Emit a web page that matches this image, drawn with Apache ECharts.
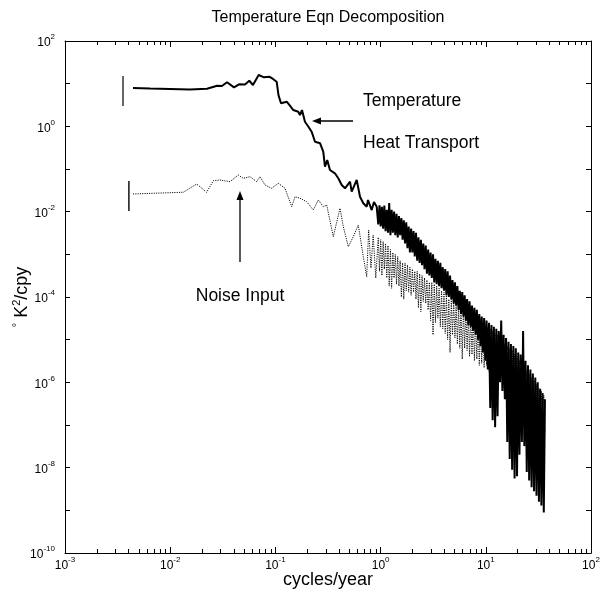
<!DOCTYPE html>
<html><head><meta charset="utf-8">
<script src="https://cdn.jsdelivr.net/npm/echarts@6/dist/echarts.min.js"></script>
<style>html,body{margin:0;padding:0;background:#fff}#c{width:601px;height:601px}</style>
</head><body><div id="c"></div>
<script>
// ---- data ----
const tempFreqLow = [0.00443, 0.00643, 0.00995, 0.0154, 0.0224, 0.0279, 0.0310, 0.0347, 0.0404, 0.0451,
  0.0514, 0.0565, 0.0612, 0.0693, 0.078, 0.0875, 0.0948, 0.1028, 0.107, 0.113,
  0.128, 0.138, 0.148, 0.165, 0.171, 0.179, 0.191, 0.206, 0.221, 0.238,
  0.266, 0.285, 0.296, 0.311, 0.330, 0.368, 0.396, 0.427, 0.459, 0.512,
  0.531, 0.593, 0.637, 0.685, 0.738, 0.759, 0.823, 0.865, 0.918];
const tempValLow = [7.92, 7.7, 7.5, 7.3, 7.6, 8.96, 8.8, 10.8, 8.2, 9.67,
  9.56, 11.7, 9.3, 16.0, 14.1, 14.6, 12.9, 11.1, 5.4, 3.47,
  3.78, 3.0, 2.41, 2.2, 1.84, 2.41, 1.28, 0.98, 0.749, 0.436,
  0.40, 0.255, 0.113, 0.163, 0.0948, 0.0793, 0.0605, 0.0422, 0.0353, 0.0504,
  0.0294, 0.0553, 0.0224, 0.0157, 0.0131, 0.0188, 0.0109, 0.0169, 0.0131];
const denseFreq = [0.950, 0.976, 1.002, 1.029, 1.057, 1.085, 1.115, 1.145, 1.176, 1.207,
  1.240, 1.273, 1.308, 1.343, 1.379, 1.417, 1.455, 1.494, 1.534, 1.576,
  1.618, 1.662, 1.707, 1.753, 1.800, 1.849, 1.899, 1.950, 2.003, 2.057,
  2.112, 2.169, 2.228, 2.288, 2.350, 2.413, 2.478, 2.545, 2.614, 2.685,
  2.757, 2.832, 2.908, 2.987, 3.067, 3.150, 3.235, 3.322, 3.412, 3.504,
  3.599, 3.696, 3.796, 3.898, 4.004, 4.112, 4.223, 4.337, 4.454, 4.574,
  4.698, 4.825, 4.955, 5.089, 5.226, 5.367, 5.512, 5.661, 5.814, 5.971,
  6.132, 6.298, 6.468, 6.642, 6.822, 7.006, 7.195, 7.389, 7.589, 7.794,
  8.004, 8.220, 8.442, 8.670, 8.904, 9.145, 9.392, 9.645, 9.906, 10.17,
  10.45, 10.73, 11.02, 11.32, 11.62, 11.94, 12.26, 12.59, 12.93, 13.28,
  13.64, 14.01, 14.38, 14.77, 15.17, 15.58, 16.00, 16.43, 16.88, 17.33,
  17.80, 18.28, 18.78, 19.28, 19.80, 20.34, 20.89, 21.45, 22.03, 22.62,
  23.23, 23.86, 24.51, 25.17, 25.85, 26.54, 27.26, 28.00, 28.75, 29.53,
  30.33, 31.15, 31.99, 32.85, 33.74, 34.65, 35.58, 36.50];
const tempValDense = [5.0e-3, 1.4e-2, 4.5e-3, 1.3e-2, 4.0e-3, 1.4e-2, 3.5e-3, 1.1e-2, 3.2e-3, 1.6e-2,
  2.8e-3, 1.1e-2, 3.2e-3, 1.0e-2, 2.8e-3, 8.9e-3, 2.5e-3, 7.9e-3, 2.8e-3, 7.1e-3,
  2.2e-3, 6.3e-3, 1.8e-3, 5.6e-3, 1.4e-3, 4.5e-3, 1.1e-3, 4.0e-3, 1.1e-3, 3.5e-3,
  8.9e-4, 3.2e-3, 7.1e-4, 2.5e-3, 6.3e-4, 2.2e-3, 5.6e-4, 1.8e-3, 4.5e-4, 1.6e-3,
  3.5e-4, 1.3e-3, 3.2e-4, 1.1e-3, 2.8e-4, 1.0e-3, 2.2e-4, 7.9e-4, 2.0e-4, 7.1e-4,
  1.8e-4, 6.3e-4, 1.6e-4, 5.0e-4, 1.4e-4, 4.5e-4, 1.1e-4, 4.0e-4, 1.0e-4, 3.2e-4,
  8.9e-5, 2.5e-4, 7.1e-5, 2.2e-4, 6.3e-5, 1.8e-4, 5.0e-5, 1.4e-4, 4.0e-5, 1.3e-4,
  3.5e-5, 1.1e-4, 2.8e-5, 8.9e-5, 2.2e-5, 7.9e-5, 2.0e-5, 6.3e-5, 1.6e-5, 5.6e-5,
  1.3e-5, 5.0e-5, 1.0e-5, 4.0e-5, 7.1e-6, 3.5e-5, 5.0e-6, 3.2e-5, 3.2e-6, 2.8e-5,
  2.0e-6, 2.5e-5, 2.5e-7, 2.2e-5, 1.3e-7, 2.0e-5, 8.9e-8, 1.8e-5, 1.6e-7, 1.6e-5,
  1.0e-6, 2.8e-5, 6.3e-7, 1.3e-5, 4.0e-7, 1.1e-5, 4.0e-8, 8.9e-6, 1.6e-8, 7.9e-6,
  8.9e-9, 7.1e-6, 5.6e-9, 6.3e-6, 6.3e-9, 5.0e-6, 2.0e-8, 4.5e-6, 4.0e-8, 1.6e-5,
  3.2e-8, 3.2e-6, 7.9e-9, 2.5e-6, 5.0e-9, 2.0e-6, 3.5e-9, 1.6e-6, 2.8e-9, 1.3e-6,
  2.2e-9, 1.0e-6, 1.6e-9, 7.1e-7, 1.3e-9, 5.6e-7, 8.9e-10, 4.0e-7];
const noiseFreqLow = [0.00443, 0.01332, 0.01786, 0.0222, 0.0257, 0.0297, 0.0370, 0.0444, 0.0495, 0.0574,
  0.0664, 0.0714, 0.0796, 0.0922, 0.1066, 0.1234, 0.1429, 0.1536, 0.1713, 0.1984,
  0.2293, 0.2557, 0.2852, 0.3074, 0.3551, 0.4113, 0.4419, 0.4932, 0.5502, 0.6138,
  0.6848, 0.7376, 0.77, 0.81, 0.85, 0.9];
const noiseValLow = [2.60e-2, 2.85e-2, 4.45e-2, 2.85e-2, 5.32e-2, 5.53e-2, 5.04e-2, 7.24e-2, 6.06e-2, 6.60e-2,
  5.04e-2, 6.60e-2, 4.22e-2, 3.53e-2, 4.62e-2, 3.53e-2, 1.31e-2, 2.24e-2, 2.06e-2, 1.71e-2,
  1.095e-2, 1.88e-2, 1.31e-2, 1.43e-2, 2.59e-3, 1.20e-2, 4.45e-3, 1.51e-3, 2.59e-3, 4.87e-3,
  8.81e-4, 2.99e-4, 3.72e-3, 4.79e-4, 2.84e-3, 2.79e-4];
const noiseValDense = [2.5e-3, 4.0e-4, 2.2e-3, 3.2e-4, 2.0e-3, 4.5e-4, 1.8e-3, 2.8e-4, 1.6e-3, 1.8e-4,
  1.3e-3, 1.6e-4, 1.1e-3, 2.8e-4, 1.0e-3, 2.0e-4, 8.9e-4, 1.8e-4, 7.1e-4, 1.0e-4,
  6.3e-4, 8.9e-5, 6.3e-4, 1.4e-4, 5.6e-4, 1.3e-4, 5.0e-4, 1.1e-4, 4.5e-4, 1.3e-4,
  4.0e-4, 8.9e-5, 4.0e-4, 5.6e-5, 3.5e-4, 4.5e-5, 3.2e-4, 7.9e-5, 2.8e-4, 7.1e-5,
  2.5e-4, 5.0e-5, 2.2e-4, 2.8e-5, 2.2e-4, 1.3e-5, 2.0e-4, 2.5e-5, 1.8e-4, 3.2e-5,
  1.6e-4, 2.0e-5, 1.4e-4, 1.8e-5, 1.3e-4, 1.4e-5, 1.1e-4, 1.0e-5, 8.9e-5, 5.0e-6,
  8.9e-5, 1.3e-5, 7.9e-5, 1.1e-5, 7.1e-5, 7.9e-6, 6.3e-5, 6.3e-6, 6.3e-5, 3.5e-6,
  5.6e-5, 6.3e-6, 5.0e-5, 5.6e-6, 4.5e-5, 4.0e-6, 4.0e-5, 4.5e-6, 3.5e-5, 3.2e-6,
  3.2e-5, 3.5e-6, 2.8e-5, 2.5e-6, 2.5e-5, 2.8e-6, 2.2e-5, 2.2e-6, 2.0e-5, 2.5e-6,
  2.0e-5, 1.8e-6, 1.8e-5, 2.0e-6, 1.6e-5, 1.6e-6, 1.4e-5, 1.8e-6, 1.3e-5, 1.4e-6,
  1.0e-5, 1.4e-6, 8.9e-6, 1.1e-6, 7.9e-6, 1.3e-6, 7.1e-6, 8.9e-7, 6.3e-6, 1.0e-6,
  5.6e-6, 7.1e-7, 4.5e-6, 7.9e-7, 4.0e-6, 5.6e-7, 3.2e-6, 6.3e-7, 2.8e-6, 4.0e-7,
  2.5e-6, 3.5e-7, 2.0e-6, 2.8e-7, 1.6e-6, 2.2e-7, 1.3e-6, 2.0e-7, 1.1e-6, 1.6e-7,
  8.9e-7, 1.3e-7, 7.1e-7, 8.9e-8, 6.3e-7, 7.9e-8, 5.0e-7, 6.3e-8];
// confidence bars (temperature, noise)
const ciFreq = [0.00356, 0.00405];
const ciLow = [3.0, 0.0104];
const ciHigh = [15.1, 0.0524];
// axis ticks / labels
const xTickValues = [1e-3, 1e-2, 1e-1, 1e0, 1e1, 1e2];
const xMinorTicks = [0.002, 0.003, 0.004, 0.005, 0.006, 0.007, 0.008, 0.009,
  0.02, 0.03, 0.04, 0.05, 0.06, 0.07, 0.08, 0.09,
  0.2, 0.3, 0.4, 0.5, 0.6, 0.7, 0.8, 0.9,
  2, 3, 4, 5, 6, 7, 8, 9,
  20, 30, 40, 50, 60, 70, 80, 90];
const yTickValues = [1e-10, 1e-9, 1e-8, 1e-7, 1e-6, 1e-5, 1e-4, 1e-3, 1e-2, 1e-1, 1e0, 1e1, 1e2];
const yLabelValues = [1e-10, 1e-8, 1e-6, 1e-4, 1e-2, 1e0, 1e2];
const Y_MIN = 1e-10, Y_MAX = 1e2;

// ---- chart ----
const FONT = '"Liberation Sans", Arial, Helvetica, sans-serif';
function pairs(xs, ys) { return xs.map((x, i) => [x, ys[i]]); }
const tempData = pairs(tempFreqLow.concat(denseFreq), tempValLow.concat(tempValDense));
const noiseData = pairs(noiseFreqLow.concat(denseFreq), noiseValLow.concat(noiseValDense));

function expLabel(v) {
  const e = Math.round(Math.log10(v));
  return '{b|10}{s|' + e + '}';
}
const richLab = {
  b: { fontSize: 12, fontFamily: FONT, color: '#000', lineHeight: 16, verticalAlign: 'bottom' },
  s: { fontSize: 8, fontFamily: FONT, color: '#000', verticalAlign: 'top' }
};
const axLine = { show: true, onZero: false, lineStyle: { color: '#000', width: 1 } };

function xAx(pos, withLabels) {
  return {
    type: 'log', logBase: 10, min: 1e-3, max: 1e2, position: pos,
    axisLine: axLine,
    axisTick: { show: true, inside: true, length: 6, customValues: xTickValues, lineStyle: { color: '#000', width: 1 } },
    minorTick: { show: false },
    splitLine: { show: false }, minorSplitLine: { show: false },
    axisLabel: withLabels ? { show: true, customValues: xTickValues, formatter: expLabel, rich: richLab, margin: 3 } : { show: false },
    name: withLabels ? 'cycles/year' : '', nameLocation: 'middle', nameGap: 18, nameMoveOverlap: false,
    nameTextStyle: { fontSize: 18, fontFamily: FONT, color: '#000' }
  };
}
function yAx(pos, withLabels) {
  return {
    type: 'log', logBase: 10, min: Y_MIN, max: Y_MAX, position: pos,
    axisLine: axLine,
    axisTick: { show: true, inside: true, length: 5, customValues: yTickValues, lineStyle: { color: '#000' } },
    minorTick: { show: false },
    splitLine: { show: false }, minorSplitLine: { show: false },
    axisLabel: withLabels ? { show: true, customValues: yLabelValues, formatter: expLabel, rich: richLab, margin: 10 } : { show: false },
    name: withLabels ? '{sp|°} K{sp|2}/cpy' : '', nameLocation: 'middle', nameGap: 32, nameRotate: 90, nameMoveOverlap: false,
    nameTextStyle: { fontSize: 18, fontFamily: FONT, color: '#000', lineHeight: 22,
      rich: { sp: { fontSize: 11, fontFamily: FONT, color: '#000', verticalAlign: 'top' } } }
  };
}

const chart = echarts.init(document.getElementById('c'), null, { renderer: 'canvas', width: 601, height: 601 });
chart.setOption({
  animation: false,
  backgroundColor: '#fff',
  grid: { left: 65, right: 10, top: 41, bottom: 48, containLabel: false, outerBoundsMode: 'none' },
  xAxis: [xAx('bottom', true), xAx('top', false)],
  yAxis: [yAx('left', true), yAx('right', false)],
  series: [
    { name: 'Temperature CI', type: 'line', symbol: 'none', data: [[ciFreq[0], ciLow[0]], [ciFreq[0], ciHigh[0]]],
      lineStyle: { color: '#000', width: 1.2 } },
    { name: 'Noise CI', type: 'line', symbol: 'none', data: [[ciFreq[1], ciLow[1]], [ciFreq[1], ciHigh[1]]],
      lineStyle: { color: '#000', width: 1.4 } },
    { name: 'Temperature', type: 'line', symbol: 'none', data: tempData,
      lineStyle: { color: '#000', width: 2 }, z: 3 },
    { name: 'Noise Input', type: 'line', symbol: 'none', data: noiseData,
      lineStyle: { color: '#000', width: 1, type: [1.1, 1.2] }, z: 4 }
  ]
});

// minor x ticks (2..9 per decade), positioned through the axis scale
const minorTickEls = [];
xMinorTicks.forEach(function (v) {
  const b = chart.convertToPixel({ xAxisIndex: 0, yAxisIndex: 0 }, [v, Y_MIN]);
  const t = chart.convertToPixel({ xAxisIndex: 0, yAxisIndex: 0 }, [v, Y_MAX]);
  if (!b || !t) return;
  const x = Math.round(b[0]) + 0.5;
  minorTickEls.push({ type: 'line', z: 50, silent: true, shape: { x1: x, y1: b[1], x2: x, y2: b[1] - 4 }, style: { stroke: '#000', lineWidth: 1 } });
  minorTickEls.push({ type: 'line', z: 50, silent: true, shape: { x1: x, y1: t[1], x2: x, y2: t[1] + 4 }, style: { stroke: '#000', lineWidth: 1 } });
});

chart.setOption({
  graphic: [
    { type: 'text', x: 328, y: 18, style: { text: 'Temperature Eqn Decomposition', fontSize: 16, fontFamily: FONT, fill: '#000', align: 'center', verticalAlign: 'middle' } },
    { type: 'text', x: 363, y: 101, style: { text: 'Temperature', fontSize: 17.5, fontFamily: FONT, fill: '#000', align: 'left', verticalAlign: 'middle' } },
    { type: 'text', x: 363, y: 143, style: { text: 'Heat Transport', fontSize: 17.5, fontFamily: FONT, fill: '#000', align: 'left', verticalAlign: 'middle' } },
    { type: 'line', shape: { x1: 353, y1: 121, x2: 318, y2: 121 }, style: { stroke: '#000', lineWidth: 1.3 } },
    { type: 'polygon', shape: { points: [[312, 121], [321, 117.5], [321, 124.5]] }, style: { fill: '#000' } },
    { type: 'line', shape: { x1: 240, y1: 262, x2: 240, y2: 198 }, style: { stroke: '#000', lineWidth: 1.3 } },
    { type: 'polygon', shape: { points: [[240, 191], [236.5, 200], [243.5, 200]] }, style: { fill: '#000' } },
    { type: 'text', x: 240, y: 296, style: { text: 'Noise Input', fontSize: 17.5, fontFamily: FONT, fill: '#000', align: 'center', verticalAlign: 'middle' } }
  ].concat(minorTickEls)
});
</script>
</body></html>
